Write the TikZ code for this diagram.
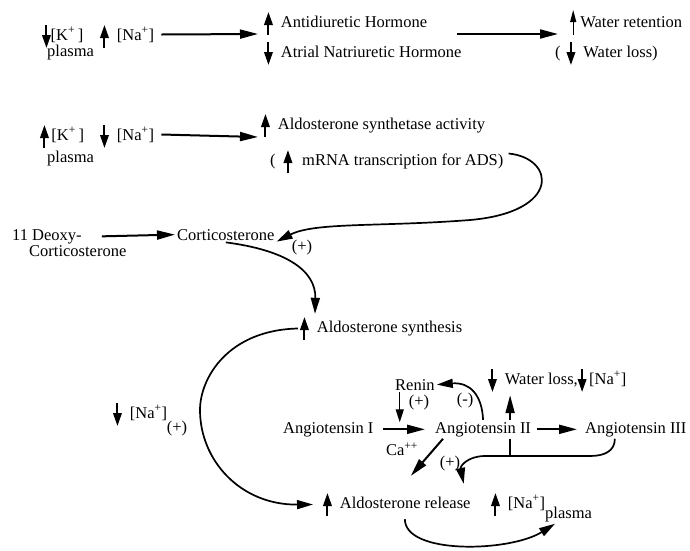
\documentclass[tikz,border=0pt]{standalone}
\usepackage{fontspec}
\setmainfont{Liberation Serif}
\usetikzlibrary{arrows.meta,calc,positioning}

\newcommand{\figfont}{\fontsize{16.5}{18}\selectfont}
\newcommand{\arup}{\tikz[baseline=0pt]\draw[symarrow] (0pt,-8pt) -- (0pt,15pt);}
\newcommand{\ardn}{\tikz[baseline=0pt]\draw[symarrow] (0pt,15pt) -- (0pt,-8pt);}
\newcommand{\arupthin}{\tikz[baseline=0pt]\draw[thinsym] (0pt,-8pt) -- (0pt,17pt);}

\begin{document}
\begin{tikzpicture}[x=1pt,y=-1pt]

\tikzset{txt/.style={anchor=base west,inner sep=2pt,font=\figfont},
sign/.style={inner sep=1pt,font=\figfont},
conn/.style={line width=2pt,-{Triangle[length=18pt,width=9pt]}},
curv/.style={line width=1.7pt,-{Triangle[length=16pt,width=9pt]}},
thinconn/.style={line width=1.3pt,-{Triangle[length=13pt,width=8pt]}},
symarrow/.style={line width=2pt,-{Triangle[length=13pt,width=8.5pt]}},
thinsym/.style={line width=1.2pt,-{Triangle[length=12pt,width=6pt]}}}

\useasboundingbox (0,0) rectangle (690,550);

% Top row: plasma ions, hormones, water
\node[txt] (kA) at (40,40) {\ardn[K\textsuperscript{+}\,]};
\node[txt] (plasmaA) at (45,56) {plasma};
\node[txt] (naA) at (98,40) {\arup\enskip[Na\textsuperscript{+}]};
\coordinate (hormIn) at (258,34);
\node[txt] (adh) at (262,27) {\arup\enskip Antidiuretic Hormone};
\node[txt] (anh) at (262,57) {\ardn\enskip Atrial Natriuretic Hormone};
\coordinate (hormOut) at (457,34);
\coordinate (waterIn) at (558,34);
\node[txt] (waterRet) at (568,27) {\arupthin\ Water retention};
\node[txt] (waterLoss) at (553,57) {(\hspace{6pt}\ardn\enskip Water loss)};

% Second row: synthetase
\node[txt] (kB) at (38,140) {\arup\,[K\textsuperscript{+}\,]};
\node[txt] (plasmaB) at (45,162) {plasma};
\node[txt] (naB) at (98,140) {\ardn\enskip[Na\textsuperscript{+}]};
\coordinate (synIn) at (258,137);
\node[txt] (synAct) at (259,129) {\arup\enskip Aldosterone synthetase activity};
\node[txt] (mrna) at (268,165) {(\hspace{8pt}\arup\hspace{10pt}mRNA transcription for ADS)};

% Steroid chain
\node[txt] (deoxy) at (10,240) {11 Deoxy-};
\node[txt] (deoxyB) at (27,256) {Corticosterone};
\node[txt] (cortico) at (175,240) {Corticosterone};
\node[txt] (synth) at (298,332) {\arup\enskip Aldosterone synthesis};

% Angiotensin part
\node[txt] (naC) at (111,418) {\ardn\enskip[Na\textsuperscript{+}]};
\node[txt] (release) at (321,508) {\arup\enskip Aldosterone release};
\node[txt] (renin) at (393,390) {Renin};
\node[txt] (angI) at (281,433) {Angiotensin I};
\node[txt] (angII) at (433,433) {Angiotensin II};
\node[txt] (angIII) at (583,433) {Angiotensin III};
\node[txt] (water) at (486,384) {\ardn\enskip Water loss,\ardn\,[Na\textsuperscript{+}]};
\node[txt] (naD) at (489,508) {\arup\enskip[Na\textsuperscript{+}]};
\node[txt] (plasmaC) at (543,518) {plasma};
\node[sign] (ca) at (402,449) {Ca\textsuperscript{++}};
\foreach \u/\x/\y in {plusA/302/248, plusB/177/429, plusC/419/403, plusD/450/464}
  \node[sign] (\u) at (\x,\y) {(+)};
\node[sign] (minusA) at (465,401) {(-)};

%% Straight arrows
\draw[conn] ([shift={(5pt,2pt)}]naA.east) -- (hormIn);
\draw[conn] (hormOut) -- (waterIn);
\draw[conn] ([shift={(5pt,2pt)}]naB.east) -- (synIn);
\draw[conn] ([xshift=18pt]deoxy.east) -- (cortico.west);
\draw[conn,shorten <=7pt,shorten >=8pt] (angI.east) -- (angII.west) coordinate[pos=0.42] (angmid);
\draw[conn,shorten <=4pt,shorten >=6pt] (angII.east) -- (angIII.west);
\draw[thinconn] (renin.south -| angmid) -- ([yshift=7pt]angmid);
\draw[conn] ([xshift=27pt]angII.north) -- ([xshift=27pt]angII.north |- water.south);
\draw[conn] ([xshift=10pt]angII.south west) -- ([shift={(14pt,14pt)}]release.north);

%% Curved arrows
\draw[curv] ([shift={(3pt,8pt)}]mrna.east) .. controls (555,158) and (562,212) .. (470,220)
  .. controls (380,227) and (315,222) .. ([yshift=-7pt]cortico.east);
\draw[curv] (cortico.south) .. controls (285,250) and (316,270) .. ([xshift=17pt]synth.north west);
\draw[curv] (synth.west) .. controls (228,330) and (200,378) .. (200,410)
  .. controls (200,460) and (240,505) .. ([xshift=-8pt]release.west);
\draw[curv] (angII.north) .. controls (482,395) and (470,382) .. (renin.east);

% Angiotensin III back to release
\coordinate (bendR) at (590,456);
\coordinate (bendL) at (485,456);
\draw[line width=1.7pt] ([xshift=27pt]angII.south) -- ([xshift=27pt]angII.south |- bendL);
\draw[curv] ([xshift=-21pt]angIII.south) .. controls +(0,12) and (605,456) .. (bendR) -- (bendL)
  .. controls (468,456) and (460,466) .. ([shift={(-9pt,6pt)}]release.north east);
\draw[curv] ([xshift=8pt]release.south) .. controls (405,555) and (510,552) .. ([xshift=12pt]plasmaC.south west);
\end{tikzpicture}
\end{document}
